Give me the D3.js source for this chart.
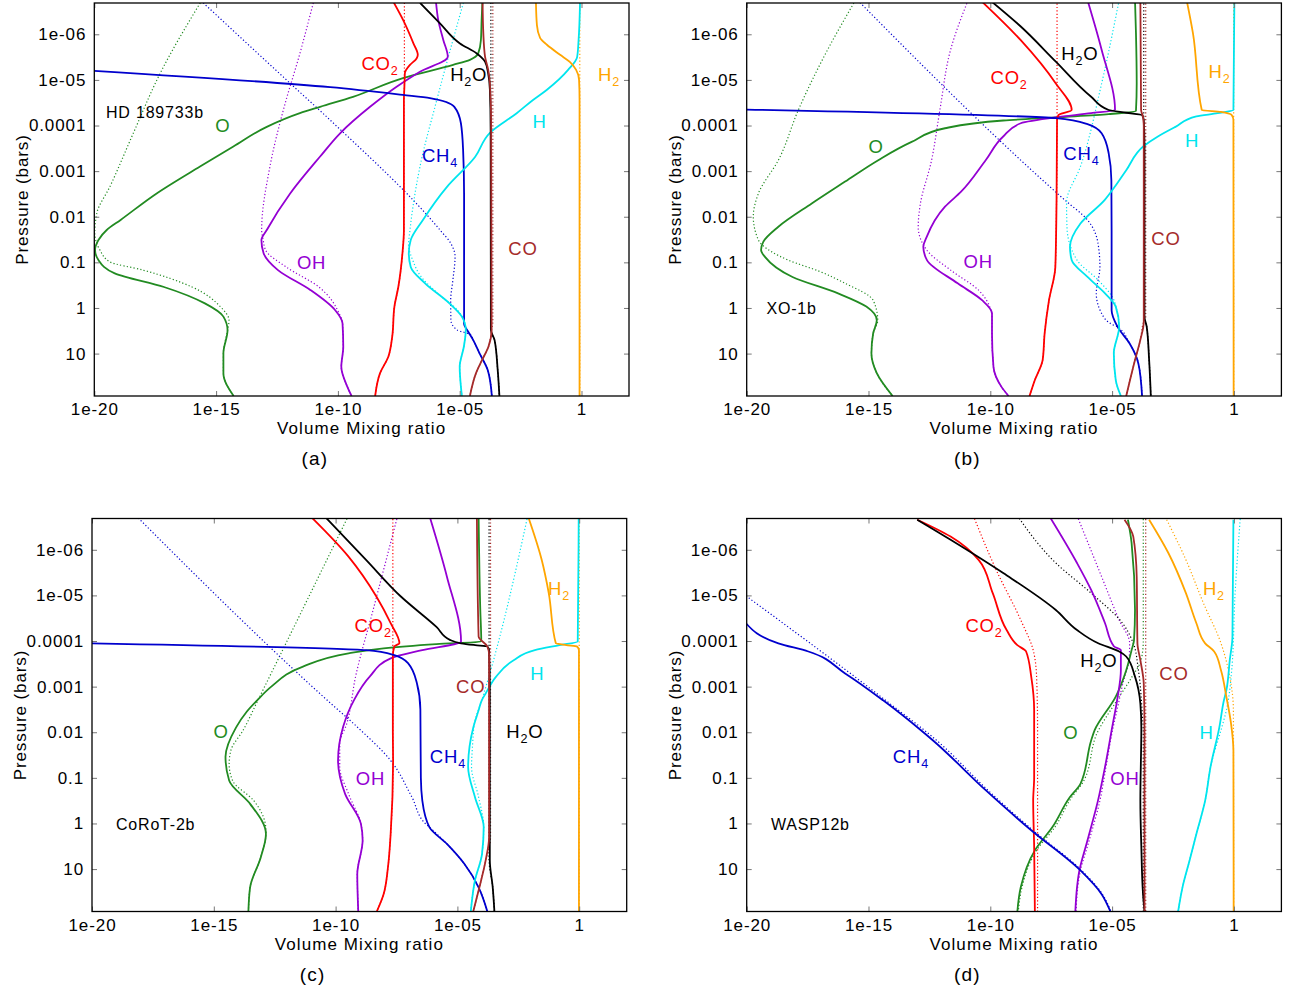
<!DOCTYPE html>
<html><head><meta charset="utf-8">
<script src="https://cdn.jsdelivr.net/npm/d3@7"></script>
<style>
body{margin:0;background:#fff;}
text{font-family:"Liberation Sans",Arial,Helvetica,sans-serif;}
</style></head><body>
<svg id="chart" width="1289" height="989" xmlns="http://www.w3.org/2000/svg"></svg>
<script>
// ---------- axis ticks ----------
const xTickVals = [1e-20, 1e-15, 1e-10, 1e-5, 1];
const xTickText = ['1e-20', '1e-15', '1e-10', '1e-05', '1'];
const yTickVals = [1e-6, 1e-5, 1e-4, 1e-3, 1e-2, 0.1, 1, 10];
const yTickText = ['1e-06', '1e-05', '0.0001', '0.001', '0.01', '0.1', '1', '10'];
const species = ['O', 'OH', 'CO2', 'CH4', 'H', 'H2O', 'CO', 'H2'];
const panelNames = ['HD 189733b', 'XO-1b', 'CoRoT-2b', 'WASP12b'];
const captions = ['(a)', '(b)', '(c)', '(d)'];

// ---------- data: [log10 VMR, log10 P(bar)] ----------
// panel (a) HD 189733b
const a_O = [[-4.07,-6.69],[-4.10,-6.31],[-4.13,-5.87],[-4.24,-5.58],[-4.58,-5.44],[-5.27,-5.33],[-7.33,-5.04],[-9.38,-4.63],[-10.73,-4.41],[-11.56,-4.27],[-12.92,-3.97],[-14.29,-3.54],[-15.66,-3.10],[-17.44,-2.51],[-18.92,-1.93],[-19.49,-1.71],[-19.83,-1.49],[-19.97,-1.27],[-19.83,-1.05],[-19.16,-0.76],[-17.14,-0.46],[-15.46,-0.10],[-14.70,0.19],[-14.53,0.49],[-14.70,0.99],[-14.70,1.43],[-14.28,1.93]];
const a_O_dot = [[-15.65,-6.69],[-17.30,-5.14],[-18.40,-3.83],[-19.36,-2.66],[-19.90,-2.07],[-19.98,-1.64],[-19.77,-1.27],[-19.36,-1.01],[-18.00,-0.83],[-15.99,-0.46],[-14.81,-0.02],[-14.47,0.27],[-14.53,0.49]];
const a_OH = [[-5.97,-6.69],[-5.88,-6.31],[-5.67,-5.87],[-5.49,-5.51],[-6.63,-5.18],[-7.59,-4.85],[-8.68,-4.41],[-9.91,-3.83],[-10.73,-3.32],[-11.96,-2.51],[-12.92,-1.71],[-13.14,-1.49],[-13.05,-1.20],[-12.46,-0.83],[-11.12,-0.39],[-10.11,0.05],[-9.81,0.34],[-9.78,0.85],[-9.86,1.29],[-9.61,1.73],[-9.44,1.93]];
const a_OH_dot = [[-11.01,-6.69],[-11.56,-5.58],[-12.24,-4.34],[-12.79,-3.10],[-13.13,-1.71],[-13.07,-1.50],[-12.97,-1.27],[-12.13,-0.90],[-10.78,-0.46],[-9.95,0.12],[-9.81,0.34]];
const a_CO2 = [[-7.70,-6.69],[-7.32,-6.31],[-6.90,-5.80],[-6.72,-5.55],[-6.77,-5.47],[-7.04,-5.33],[-7.25,-5.15],[-7.27,-4.85],[-7.29,-4.56],[-7.29,-1.71],[-7.35,-1.20],[-7.52,-0.46],[-7.68,-0.03],[-7.77,0.63],[-7.93,1.07],[-8.27,1.43],[-8.47,1.93]];
const a_CO2_dot = [[-7.27,-6.69],[-7.27,-5.0]];
const a_CH4 = [[-20,-5.20],[-10.32,-4.84],[-7.33,-4.67],[-6.22,-4.60],[-5.22,-4.41],[-4.95,-4.05],[-4.86,-3.46],[-4.82,-2.5],[-4.82,0.35],[-4.65,0.52],[-4.45,0.70],[-4.19,0.99],[-3.85,1.36],[-3.68,1.93]];
const a_CH4_dot = [[-15.53,-6.69],[-11.97,-4.93],[-10.32,-4.12],[-5.81,-1.71],[-5.37,-1.42],[-5.19,-1.12],[-5.28,-0.61],[-5.37,-0.17],[-5.36,0.27],[-5.11,0.48],[-4.54,0.59]];
const a_H = [[-0.06,-6.69],[-0.12,-5.87],[-0.18,-5.50],[-0.55,-5.22],[-1.43,-4.78],[-1.99,-4.56],[-2.66,-4.27],[-3.76,-3.84],[-4.37,-3.31],[-5.53,-2.65],[-6.51,-1.93],[-7.01,-1.49],[-7.09,-1.20],[-7.01,-0.90],[-6.42,-0.54],[-5.42,-0.10],[-4.91,0.19],[-4.75,0.48],[-4.83,0.85],[-5.00,1.29],[-4.95,1.73],[-4.91,1.93]];
const a_H_dot = [[-4.85,-6.69],[-5.94,-4.56],[-6.63,-3.10],[-7.04,-1.71],[-7.10,-1.38],[-6.93,-1.05],[-6.63,-0.72],[-5.75,-0.25],[-5.08,0.05],[-4.75,0.48]];
const a_H2O = [[-6.63,-6.69],[-5.81,-6.24],[-4.99,-5.80],[-4.30,-5.58],[-3.96,-5.40],[-3.83,-5.14],[-3.76,-4.78],[-3.73,-3.90],[-3.72,0.48],[-3.57,0.70],[-3.44,1.36],[-3.37,1.93]];
const a_H2O_dot = [[-3.72,-6.69],[-3.72,0.48]];
const a_CO = [[-4.06,-6.69],[-4.03,-6.02],[-3.96,-5.51],[-3.83,-5.22],[-3.76,-4.93],[-3.71,-4.12],[-3.69,0.48],[-3.82,0.85],[-4.08,1.14],[-4.33,1.43],[-4.58,1.93]];
const a_CO_dot = [[-3.64,-6.69],[-3.64,0.3]];
const a_H2 = [[-1.87,-6.69],[-1.83,-6.20],[-1.70,-5.92],[-1.42,-5.77],[-0.88,-5.55],[-0.47,-5.39],[-0.22,-5.22],[-0.10,-5.0],[-0.08,-4.56],[-0.08,1.93]];
const a_H2_dot = [[-0.07,-6.69],[-0.07,1.93]];

// panel (b) XO-1b
const b_O = [[-4.06,-6.75],[-4.02,-6.02],[-3.99,-4.92],[-4.02,-4.32],[-5.14,-4.25],[-7.31,-4.18],[-9.47,-4.11],[-11.86,-3.94],[-13.23,-3.64],[-14.60,-3.24],[-15.96,-2.77],[-17.33,-2.29],[-18.70,-1.78],[-19.32,-1.45],[-19.41,-1.27],[-19.25,-1.12],[-18.12,-0.68],[-16.25,-0.32],[-15.09,-0.03],[-14.66,0.27],[-14.81,0.56],[-14.88,1.0],[-14.66,1.43],[-14.01,1.93]];
const b_O_dot = [[-15.53,-6.75],[-16.68,-5.66],[-17.88,-4.34],[-18.70,-3.24],[-19.52,-2.51],[-19.73,-2.0],[-19.52,-1.49],[-18.97,-1.23],[-18.30,-1.05],[-17.0,-0.8],[-15.96,-0.54],[-14.81,-0.17],[-14.62,0.27]];
const b_OH = [[-6.01,-6.75],[-5.43,-5.66],[-4.88,-4.34],[-5.86,-4.27],[-7.31,-4.18],[-8.75,-4.05],[-9.47,-3.76],[-10.19,-3.24],[-11.2,-2.55],[-11.86,-2.22],[-12.61,-1.56],[-12.75,-1.34],[-12.6,-1.05],[-11.34,-0.54],[-10.34,-0.17],[-9.93,0.12],[-9.93,0.56],[-9.87,1.29],[-9.54,1.73],[-9.25,1.93]];
const b_OH_dot = [[-10.91,-6.75],[-11.63,-5.66],[-12.07,-4.34],[-12.41,-3.24],[-12.89,-2.22],[-12.96,-1.78],[-12.61,-1.27],[-11.63,-0.83],[-10.48,-0.39],[-9.97,0.05]];
const b_CO2 = [[-10.41,-6.75],[-8.75,-5.87],[-7.31,-4.92],[-6.66,-4.34],[-7.2,-4.23],[-7.26,-4.12],[-7.28,-2.37],[-7.33,-0.9],[-7.59,-0.17],[-7.77,0.56],[-7.85,1.14],[-8.17,1.58],[-8.39,1.93]];
const b_CO2_dot = [[-7.26,-6.75],[-7.26,-4.2]];
const b_CH4 = [[-20,-4.35],[-7.3,-4.16],[-6.01,-4.03],[-5.43,-3.83],[-5.14,-3.39],[-5.03,-2.8],[-5.02,-1.7],[-5.02,0.05],[-4.78,0.41],[-4.28,0.78],[-3.92,1.22],[-3.77,1.93]];
const b_CH4_dot = [[-15.45,-6.75],[-6.95,-2.37],[-6.01,-1.93],[-5.58,-1.42],[-5.50,-0.90],[-5.65,-0.32],[-5.43,0.12],[-4.93,0.38]];
const b_H = [[0.02,-6.75],[-0.02,-4.34],[-0.67,-4.27],[-1.54,-4.2],[-2.4,-3.97],[-3.12,-3.76],[-3.7,-3.55],[-4.42,-3.02],[-4.9,-2.65],[-5.3,-2.37],[-6.3,-1.85],[-6.73,-1.34],[-6.66,-1.05],[-6.01,-0.68],[-5.29,-0.32],[-4.85,-0.03],[-4.71,0.41],[-4.93,0.99],[-4.85,1.58],[-4.64,1.93]];
const b_H_dot = [[-4.71,-6.75],[-5.43,-4.92],[-6.30,-3.10],[-6.87,-2.3],[-6.85,-1.75],[-6.44,-1.05],[-5.57,-0.61],[-5.0,-0.25],[-4.78,0.12]];
const b_H2O = [[-10.02,-6.75],[-8.75,-6.17],[-7.31,-5.40],[-5.86,-4.63],[-5.14,-4.34],[-4.42,-4.28],[-3.77,-4.23],[-3.70,-4.12],[-3.67,-3.5],[-3.67,0.2],[-3.58,0.41],[-3.48,1.14],[-3.41,1.93]];
const b_H2O_dot = [[-3.70,-6.75],[-3.70,0.2]];
const b_CO = [[-3.84,-6.75],[-3.81,-4.34],[-3.73,-4.19],[-3.70,-4.0],[-3.70,0.3],[-3.84,0.70],[-4.06,1.14],[-4.42,1.93]];
const b_CO_dot = [[-3.62,-6.75],[-3.62,0.2]];
const b_H2 = [[-1.94,-6.75],[-1.68,-6.02],[-1.32,-4.34],[-0.53,-4.30],[-0.09,-4.23],[-0.02,-4.12],[-0.01,1.93]];
const b_H2_dot = [[-0.01,-6.75],[-0.01,1.93]];

// panel (c) CoRoT-2b
const c_O = [[-4.13,-6.75],[-4.06,-4.68],[-4.02,-3.99],[-5.86,-3.93],[-8.03,-3.84],[-9.47,-3.73],[-11.34,-3.44],[-12.64,-3.0],[-13.22,-2.7],[-13.65,-2.45],[-14.09,-2.1],[-14.52,-1.46],[-14.37,-0.94],[-13.51,-0.43],[-12.86,0.23],[-13.07,0.74],[-13.51,1.4],[-13.58,1.93]];
const c_O_dot = [[-9.47,-6.75],[-13.19,-2.7],[-13.8,-2.04],[-14.3,-1.6],[-14.37,-1.3],[-14.23,-0.94],[-13.36,-0.5],[-12.86,0.15]];
const c_OH = [[-6.15,-6.75],[-5.43,-5.41],[-4.85,-3.99],[-6.44,-3.8],[-7.74,-3.62],[-8.6,-3.22],[-9.25,-2.7],[-9.69,-2.12],[-9.9,-1.38],[-9.61,-0.65],[-8.96,0.01],[-8.89,0.37],[-9.11,1.11],[-9.07,1.93]];
const c_OH_dot = [[-7.45,-6.75],[-8.46,-4.68],[-9.18,-3.22],[-9.54,-2.19],[-9.83,-1.75],[-9.83,-1.24],[-9.47,-0.65],[-8.96,0.01]];
const c_CO2 = [[-11.06,-6.75],[-9.47,-5.85],[-8.32,-4.97],[-7.74,-4.39],[-7.38,-3.95],[-7.59,-3.88],[-7.65,-3.66],[-7.65,-2.0],[-7.64,-1.4],[-7.74,0.23],[-7.85,0.96],[-8.03,1.55],[-8.31,1.93]];
const c_CO2_dot = [[-7.65,-6.75],[-7.65,-3.7]];
const c_CH4 = [[-20,-3.95],[-8.75,-3.8],[-7.59,-3.69],[-7.02,-3.51],[-6.66,-3.07],[-6.52,-2.5],[-6.5,-1.0],[-6.44,-0.5],[-6.15,0.08],[-5.43,0.45],[-4.71,0.89],[-4.13,1.4],[-3.77,1.93]];
const c_CH4_dot = [[-18.2,-6.75],[-10.34,-2.7],[-9.04,-2.08],[-7.74,-1.38],[-6.87,-0.58],[-6.3,0.01]];
const c_H = [[-0.02,-6.75],[-0.06,-3.99],[-0.81,-3.91],[-1.82,-3.8],[-2.69,-3.58],[-3.41,-3.22],[-3.84,-2.85],[-4.0,-2.7],[-4.13,-2.48],[-4.35,-2.1],[-4.56,-1.24],[-4.28,-0.58],[-3.92,0.08],[-3.99,0.67],[-4.28,1.25],[-4.45,1.93]];
const c_H_dot = [[-2.11,-6.75],[-4.0,-2.7],[-4.3,-2.2],[-4.38,-1.7],[-4.42,-1.24],[-4.13,-0.58],[-3.92,0.08]];
const c_H2O = [[-10.48,-6.75],[-8.75,-5.78],[-7.31,-4.97],[-5.86,-4.31],[-5.29,-4.02],[-4.85,-3.95],[-4.27,-3.91],[-3.77,-3.88],[-3.7,-3.8],[-3.67,-3],[-3.67,0.8],[-3.55,1.4],[-3.48,1.93]];
const c_H2O_dot = [[-3.70,-6.75],[-3.70,0.8]];
const c_CO = [[-4.2,-6.75],[-4.13,-4.1],[-3.77,-3.88],[-3.7,-3.7],[-3.7,0.3],[-3.84,0.81],[-4.13,1.47],[-4.35,1.93]];
const c_CO_dot = [[-3.64,-6.75],[-3.64,0.3]];
const c_H2 = [[-2.11,-6.75],[-1.54,-5.78],[-1.25,-5.05],[-0.96,-3.95],[-0.53,-3.91],[-0.09,-3.88],[-0.01,-3.8],[-0.01,1.93]];
const c_H2_dot = [[0,-6.75],[0,1.93]];

// panel (d) WASP12b
const d_O = [[-4.35,-6.66],[-4.2,-6.15],[-4.06,-4.68],[-4.1,-4.02],[-4.2,-3.8],[-4.42,-3.36],[-4.85,-2.78],[-5.72,-2.04],[-5.86,-1.82],[-6.3,-0.87],[-6.73,-0.58],[-7.45,0.08],[-8.17,0.59],[-8.75,1.4],[-8.89,1.93]];
const d_O_dot = [[-3.72,-6.75],[-3.72,-4.0],[-3.8,-3.6],[-4.2,-3.2],[-4.8,-2.7],[-5.6,-2.0],[-6.2,-0.9],[-6.65,-0.58],[-7.35,0.08],[-8.1,0.59],[-8.7,1.4],[-8.85,1.93]];
const d_OH = [[-7.59,-6.75],[-6.44,-5.71],[-5.86,-5.12],[-5.29,-4.39],[-4.92,-3.88],[-4.64,-3.8],[-4.64,-3.36],[-4.78,-2.75],[-5.0,-2.1],[-5.29,-1.24],[-5.58,-0.5],[-6.01,0.37],[-6.37,1.11],[-6.44,1.4],[-6.51,1.93]];
const d_OH_dot = [[-6.44,-6.75],[-5.43,-5.41],[-4.71,-4.46],[-4.28,-3.95],[-4.3,-3.6],[-4.56,-3.07],[-4.75,-2.6],[-5.0,-2.0],[-5.25,-1.24],[-5.5,-0.5],[-5.94,0.37],[-6.33,1.11],[-6.48,1.93]];
const d_CO2 = [[-13.0,-6.66],[-11.63,-6.29],[-10.48,-5.78],[-9.9,-5.05],[-9.33,-4.24],[-8.89,-3.91],[-8.53,-3.77],[-8.32,-3.22],[-8.2,-2.48],[-8.2,-1.0],[-8.24,-0.5],[-8.2,0.5],[-8.17,1.93]];
const d_CO2_dot = [[-10.7,-6.75],[-9.76,-5.56],[-8.75,-4.46],[-8.24,-3.8],[-8.1,-3.22],[-8.06,-2.12],[-8.06,1.93]];
const d_CH4 = [[-20.03,-4.39],[-18.7,-3.95],[-17.47,-3.77],[-15.96,-3.29],[-14.4,-2.7],[-12.86,-2.05],[-12.35,-1.82],[-10.19,-0.73],[-8.32,0.15],[-6.3,1.03],[-5.43,1.55],[-5.07,1.93]];
const d_CH4_dot = [[-20.03,-4.99],[-14.3,-2.7],[-12.2,-1.82],[-10.1,-0.73],[-8.25,0.15],[-6.25,1.03],[-5.4,1.55],[-5.05,1.93]];
const d_H = [[-0.02,-6.66],[-0.06,-4.09],[-0.17,-3.58],[-0.31,-2.92],[-0.41,-2.7],[-0.6,-2.1],[-0.96,-1.24],[-1.18,-0.5],[-1.54,0.23],[-1.82,0.81],[-2.11,1.4],[-2.29,1.93]];
const d_H_dot = [[0.27,-6.75],[0.05,-5.05],[-0.09,-3.36],[-0.31,-2.48],[-0.5,-2.1],[-0.96,-1.24]];
const d_H2O = [[-13.0,-6.66],[-11.63,-6.22],[-9.47,-5.49],[-7.31,-4.68],[-6.44,-4.24],[-5.57,-3.95],[-4.71,-3.77],[-4.42,-3.66],[-4.06,-3.22],[-3.84,-2.63],[-3.8,-2.1],[-3.84,-0.5],[-3.8,0.5],[-3.73,1.55],[-3.67,1.93]];
const d_H2O_dot = [[-8.89,-6.75],[-7.31,-5.71],[-5.86,-5.05],[-4.57,-4.39],[-4.13,-3.95],[-3.92,-3.36],[-3.77,-2.48],[-3.72,-2.0],[-3.72,1.93]];
const d_CO = [[-4.49,-6.66],[-4.13,-6.29],[-3.99,-5.41],[-3.96,-3.95],[-3.84,-3.58],[-3.7,-3.07],[-3.67,-2.0],[-3.67,1.93]];
const d_CO_dot = [[-3.62,-6.75],[-3.62,1.93]];
const d_H2 = [[-3.48,-6.66],[-2.69,-5.93],[-1.97,-5.05],[-1.54,-4.39],[-1.18,-3.95],[-0.81,-3.77],[-0.53,-3.36],[-0.31,-2.78],[-0.12,-2.2],[-0.02,-1.6],[-0.01,1.93]];
const d_H2_dot = [[-2.76,-6.66],[-1.97,-5.78],[-1.25,-4.83],[-0.53,-3.95],[-0.17,-3.22],[-0.02,-2.48],[-0.01,1.93]];

// label anchors [text, species, log10 VMR, log10 P]
const a_labels = [['O','O',-14.72,-4.01],['OH','OH',-11.08,-0.99],['CO_2','CO2',-8.27,-5.36],['CH_4','CH4',-5.81,-3.34],['H_2O','H2O',-4.63,-5.11],['H','H',-1.72,-4.08],['H_2','H2',1.13,-5.11],['CO','CO',-2.40,-1.31]];
const b_labels = [['H_2O','H2O',-6.32,-5.58],['CO_2','CO2',-9.23,-5.06],['H_2','H2',-0.59,-5.18],['O','O',-14.69,-3.54],['CH_4','CH4',-6.26,-3.39],['H','H',-1.72,-3.68],['CO','CO',-2.79,-1.53],['OH','OH',-10.50,-1.01]];
const c_labels = [['CO_2','CO2',-8.46,-4.34],['H_2','H2',-0.83,-5.15],['CO','CO',-4.45,-3.0],['H','H',-1.72,-3.29],['O','O',-14.70,-2.01],['H_2O','H2O',-2.23,-2.01],['CH_4','CH4',-5.39,-1.46],['OH','OH',-8.57,-0.98]];
const d_labels = [['H_2','H2',-0.82,-5.15],['CO_2','CO2',-10.26,-4.34],['H_2O','H2O',-5.54,-3.58],['CO','CO',-2.46,-3.29],['O','O',-6.69,-2.0],['H','H',-1.12,-2.0],['CH_4','CH4',-13.26,-1.46],['OH','OH',-4.47,-0.98]];

// ---------- styling ----------
const colors = {O:'#228b22', OH:'#9400d3', CO2:'#ff0000', CH4:'#0000cd', H:'#00e5ee', H2O:'#000000', CO:'#a52a2a', H2:'#ffa500'};
const W = 534.7, H = 393;

// dotted profiles merge into the solid ones at depth: reuse the solid points below the last dotted point
const tail = (dot, solid) => dot.concat(solid.filter(p => p[1] > dot[dot.length - 1][1]));

function build(sol, dot) {
  return species.map(s => ({sp: s, solid: sol[s], dotted: tail(dot[s], sol[s])}));
}
const panels = [
  {key:'a', left:94.3, top:3, name:panelNames[0], nameX:106, nameY:118, caption:captions[0], labels:a_labels,
   curves: build({O:a_O,OH:a_OH,CO2:a_CO2,CH4:a_CH4,H:a_H,H2O:a_H2O,CO:a_CO,H2:a_H2},
                 {O:a_O_dot,OH:a_OH_dot,CO2:a_CO2_dot,CH4:a_CH4_dot,H:a_H_dot,H2O:a_H2O_dot,CO:a_CO_dot,H2:a_H2_dot})},
  {key:'b', left:746.7, top:3, name:panelNames[1], nameX:766.5, nameY:314, caption:captions[1], labels:b_labels,
   curves: build({O:b_O,OH:b_OH,CO2:b_CO2,CH4:b_CH4,H:b_H,H2O:b_H2O,CO:b_CO,H2:b_H2},
                 {O:b_O_dot,OH:b_OH_dot,CO2:b_CO2_dot,CH4:b_CH4_dot,H:b_H_dot,H2O:b_H2O_dot,CO:b_CO_dot,H2:b_H2_dot})},
  {key:'c', left:92, top:518.5, name:panelNames[2], nameX:116, nameY:830, caption:captions[2], labels:c_labels,
   curves: build({O:c_O,OH:c_OH,CO2:c_CO2,CH4:c_CH4,H:c_H,H2O:c_H2O,CO:c_CO,H2:c_H2},
                 {O:c_O_dot,OH:c_OH_dot,CO2:c_CO2_dot,CH4:c_CH4_dot,H:c_H_dot,H2O:c_H2O_dot,CO:c_CO_dot,H2:c_H2_dot})},
  {key:'d', left:746.7, top:518.5, name:panelNames[3], nameX:771, nameY:830, caption:captions[3], labels:d_labels,
   curves: build({O:d_O,OH:d_OH,CO2:d_CO2,CH4:d_CH4,H:d_H,H2O:d_H2O,CO:d_CO,H2:d_H2},
                 {O:d_O_dot,OH:d_OH_dot,CO2:d_CO2_dot,CH4:d_CH4_dot,H:d_H_dot,H2O:d_H2O_dot,CO:d_CO_dot,H2:d_H2_dot})}
];

const svg = d3.select('#chart');
svg.append('rect').attr('width',1289).attr('height',989).attr('fill','#fff');

function addText(g, txt, x0, y0, color, anchor, size) {
  const t = g.append('text').attr('x', x0).attr('y', y0).attr('fill', color)
    .attr('text-anchor', anchor).attr('font-size', size).attr('letter-spacing', 0.8);
  const parts = txt.split(/(_\d)/).filter(s => s);
  let sub = false;
  parts.forEach(s => {
    if (s[0] === '_') { t.append('tspan').attr('font-size', size * 0.68).attr('dy', 5).text(s.slice(1)); sub = true; }
    else { t.append('tspan').attr('dy', sub ? -5 : 0).text(s); sub = false; }
  });
}

function styleAxis(sel) {
  sel.select('.domain').remove();
  sel.selectAll('.tick line').attr('stroke', '#777').attr('stroke-width', 1);
  sel.selectAll('.tick text').attr('fill', '#000').attr('font-size', 17).attr('letter-spacing', 0.9)
     .attr('font-family', '"Liberation Sans",Arial,sans-serif');
  sel.attr('font-family', null).attr('font-size', null);
}

panels.forEach(p => {
  const g = svg.append('g');
  const x = d3.scaleLog().domain([1e-20, Math.pow(10, 1.95)]).range([p.left, p.left + W]);
  const y = d3.scaleLog().domain([Math.pow(10, -6.686), Math.pow(10, 1.93)]).range([p.top, p.top + H]);
  const clipId = 'clip-' + p.key;
  svg.append('clipPath').attr('id', clipId).append('rect')
    .attr('x', p.left).attr('y', p.top).attr('width', W).attr('height', H);

  const line = d3.line()
    .x(d => x(Math.pow(10, d[0])))
    .y(d => y(Math.pow(10, d[1])))
    .curve(d3.curveMonotoneY);

  const cg = g.append('g').attr('clip-path', `url(#${clipId})`);
  p.curves.forEach(c => {
    cg.append('path').attr('d', line(c.dotted)).attr('fill', 'none')
      .attr('stroke', colors[c.sp]).attr('stroke-width', 1.2).attr('stroke-dasharray', '1.2,2.2');
  });
  p.curves.forEach(c => {
    cg.append('path').attr('d', line(c.solid)).attr('fill', 'none')
      .attr('stroke', colors[c.sp]).attr('stroke-width', 1.8).attr('stroke-linejoin', 'round');
  });

  // axes with inward ticks, mirrored
  g.append('g').attr('transform', `translate(0,${p.top + H})`)
    .call(d3.axisBottom(x).tickValues(xTickVals).tickFormat((d, i) => xTickText[i]).tickSizeInner(-5).tickSizeOuter(0).tickPadding(7))
    .call(styleAxis);
  g.append('g').attr('transform', `translate(0,${p.top})`)
    .call(d3.axisTop(x).tickValues(xTickVals).tickFormat('').tickSizeInner(-5).tickSizeOuter(0))
    .call(styleAxis);
  g.append('g').attr('transform', `translate(${p.left},0)`)
    .call(d3.axisLeft(y).tickValues(yTickVals).tickFormat((d, i) => yTickText[i]).tickSizeInner(-5).tickSizeOuter(0).tickPadding(8))
    .call(styleAxis);
  g.append('g').attr('transform', `translate(${p.left + W},0)`)
    .call(d3.axisRight(y).tickValues(yTickVals).tickFormat('').tickSizeInner(-5).tickSizeOuter(0))
    .call(styleAxis);

  g.append('rect').attr('x', p.left).attr('y', p.top).attr('width', W).attr('height', H)
    .attr('fill', 'none').attr('stroke', '#000').attr('stroke-width', 1.3);

  // axis titles
  g.append('text').attr('x', p.left + W / 2).attr('y', p.top + H + 38).attr('text-anchor', 'middle')
    .attr('font-size', 17).attr('letter-spacing', 1.1).text('Volume Mixing ratio');
  g.append('text').attr('transform', `translate(${p.left - 66},${p.top + H / 2}) rotate(-90)`)
    .attr('text-anchor', 'middle').attr('font-size', 17).attr('letter-spacing', 0.9).text('Pressure (bars)');

  // caption
  g.append('text').attr('x', p.left - 94.3 + 315).attr('y', p.top + H + 69).attr('text-anchor', 'middle')
    .attr('font-family', '"Liberation Serif","DejaVu Serif",serif').attr('font-size', 19).attr('letter-spacing', 1.2)
    .text(p.caption);

  // planet name
  g.append('text').attr('x', p.nameX).attr('y', p.nameY).attr('font-size', 16).attr('letter-spacing', 0.8).text(p.name);

  // species labels
  p.labels.forEach(l => {
    addText(g, l[0], x(Math.pow(10, l[2])), y(Math.pow(10, l[3])) + 6.5, colors[l[1]], 'middle', 18.5);
  });
});
</script>
</body></html>
